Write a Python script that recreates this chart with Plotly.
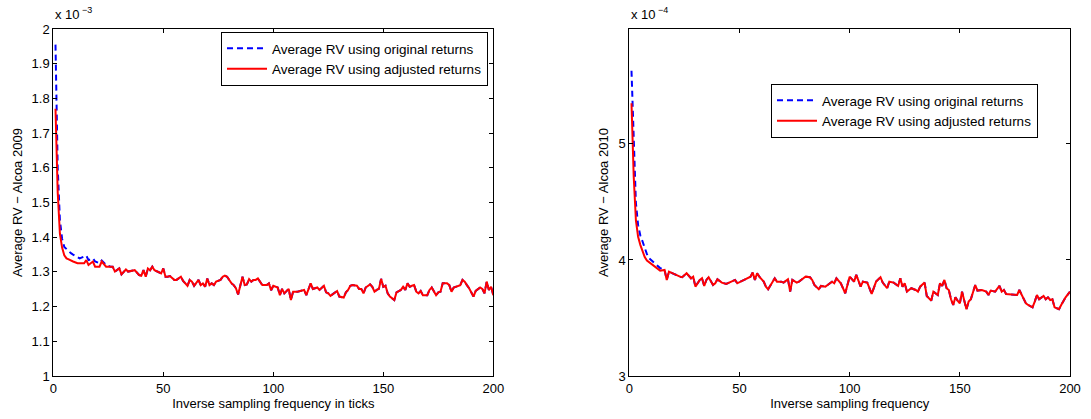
import plotly.graph_objects as go

W, H = 1091, 419

# ---------------- data ----------------
# Left panel: Alcoa 2009, values in units of 1e-3
left_x = [1, 2, 3, 4, 5, 6, 7, 8, 9, 11, 14, 15, 16, 18, 19, 21, 22, 24, 26, 27,
          28, 30, 31, 33, 34, 36, 37, 39, 40, 41, 42, 43, 44, 45, 46, 48, 49, 50, 51, 52,
          53, 55, 56, 58, 59, 61, 62, 63, 64, 66, 67, 68, 69, 70, 71, 72, 73, 74, 76, 77,
          78, 79, 80, 81, 82, 83, 84, 85, 86, 87, 88, 89, 90, 91, 92, 93, 94, 95, 96, 97,
          98, 99, 100, 101, 102, 103, 104, 105, 107, 108, 109, 111, 112, 114, 115, 116, 117, 118, 120, 121,
          122, 123, 124, 125, 126, 128, 129, 130, 132, 133, 134, 135, 136, 138, 139, 140, 141, 142, 144, 145,
          146, 147, 148, 149, 150, 151, 152, 153, 155, 156, 157, 158, 159, 160, 161, 162, 163, 164, 165, 166,
          167, 168, 170, 171, 172, 173, 174, 175, 176, 177, 179, 180, 181, 182, 183, 185, 186, 187, 188, 189,
          191, 192, 194, 195, 196, 197, 198, 199, 200]
left_adjusted = [1.770, 1.530, 1.410, 1.370, 1.348, 1.339, 1.336, 1.334, 1.330, 1.325, 1.325, 1.334, 1.320, 1.330, 1.315, 1.315, 1.330, 1.315, 1.315, 1.315,
                 1.301, 1.310, 1.293, 1.307, 1.301, 1.305, 1.305, 1.291, 1.289, 1.305, 1.286, 1.310, 1.305, 1.315, 1.305, 1.299, 1.296, 1.310, 1.286, 1.286,
                 1.288, 1.277, 1.277, 1.286, 1.274, 1.260, 1.277, 1.272, 1.260, 1.277, 1.262, 1.267, 1.257, 1.281, 1.262, 1.267, 1.262, 1.272, 1.277, 1.286,
                 1.289, 1.286, 1.277, 1.267, 1.262, 1.253, 1.235, 1.262, 1.286, 1.262, 1.264, 1.279, 1.272, 1.277, 1.277, 1.281, 1.272, 1.262, 1.262, 1.262,
                 1.267, 1.247, 1.260, 1.257, 1.255, 1.233, 1.251, 1.238, 1.251, 1.219, 1.243, 1.243, 1.245, 1.248, 1.233, 1.248, 1.267, 1.251, 1.255, 1.248,
                 1.255, 1.260, 1.241, 1.238, 1.231, 1.241, 1.245, 1.229, 1.226, 1.241, 1.248, 1.260, 1.262, 1.260, 1.251, 1.251, 1.238, 1.255, 1.264, 1.257,
                 1.243, 1.248, 1.251, 1.280, 1.257, 1.260, 1.238, 1.229, 1.219, 1.241, 1.245, 1.248, 1.257, 1.248, 1.267, 1.257, 1.260, 1.262, 1.243, 1.238,
                 1.245, 1.233, 1.233, 1.248, 1.255, 1.243, 1.233, 1.241, 1.243, 1.267, 1.267, 1.262, 1.243, 1.255, 1.257, 1.262, 1.277, 1.272, 1.262, 1.253,
                 1.229, 1.245, 1.255, 1.251, 1.238, 1.272, 1.248, 1.257, 1.233]
# original-returns curve differs only at the start; afterwards it coincides with the adjusted one
left_orig_head_x = [1, 2, 3, 4, 5, 6, 7, 8, 9, 10, 11, 12, 14, 15, 16, 18, 19, 21, 22, 24]
left_orig_head = [1.955, 1.600, 1.450, 1.395, 1.372, 1.365, 1.358, 1.354, 1.350, 1.346,
                  1.343, 1.339, 1.344, 1.347, 1.334, 1.339, 1.330, 1.325, 1.333, 1.320]

# Right panel: Alcoa 2010, values in units of 1e-4
right_x = [1, 2, 3, 4, 5, 6, 7, 8, 9, 11, 13, 14, 16, 17, 18, 20, 21, 23, 24, 25,
           26, 28, 29, 30, 32, 33, 34, 35, 36, 38, 39, 40, 42, 44, 46, 48, 49, 52, 54, 55,
           56, 57, 58, 59, 61, 62, 63, 64, 66, 67, 69, 70, 72, 73, 74, 76, 77, 79, 80, 82,
           83, 84, 86, 87, 89, 90, 92, 93, 94, 96, 97, 98, 99, 100, 102, 103, 105, 106, 108, 110,
           112, 114, 115, 117, 118, 120, 122, 123, 124, 125, 126, 128, 130, 131, 132, 134, 135, 137, 138, 140,
           141, 142, 143, 144, 145, 146, 147, 148, 149, 150, 151, 152, 153, 154, 155, 157, 158, 160, 162, 163,
           164, 166, 168, 169, 170, 171, 174, 176, 177, 178, 180, 181, 183, 184, 185, 186, 188, 189, 190, 191,
           192, 193, 195, 196, 198, 200]
right_adjusted = [5.350, 4.720, 4.340, 4.200, 4.130, 4.070, 4.025, 3.995, 3.980, 3.957, 3.920, 3.908, 3.914, 3.828, 3.899, 3.879, 3.871, 3.856, 3.851, 3.871,
                  3.885, 3.842, 3.856, 3.770, 3.828, 3.842, 3.776, 3.828, 3.851, 3.784, 3.799, 3.833, 3.805, 3.793, 3.813, 3.828, 3.799, 3.828, 3.842, 3.856,
                  3.891, 3.828, 3.885, 3.856, 3.813, 3.770, 3.747, 3.776, 3.842, 3.813, 3.813, 3.805, 3.833, 3.727, 3.828, 3.805, 3.813, 3.842, 3.856, 3.851,
                  3.828, 3.784, 3.747, 3.776, 3.770, 3.784, 3.813, 3.799, 3.842, 3.799, 3.756, 3.713, 3.785, 3.856, 3.813, 3.871, 3.770, 3.813, 3.805, 3.707,
                  3.813, 3.851, 3.805, 3.756, 3.813, 3.805, 3.776, 3.842, 3.770, 3.799, 3.727, 3.756, 3.741, 3.727, 3.770, 3.805, 3.690, 3.649, 3.727, 3.698,
                  3.799, 3.776, 3.828, 3.756, 3.741, 3.661, 3.612, 3.678, 3.649, 3.626, 3.727, 3.641, 3.575, 3.641, 3.661, 3.784, 3.736, 3.741, 3.727, 3.698,
                  3.736, 3.727, 3.776, 3.727, 3.741, 3.707, 3.698, 3.698, 3.741, 3.698, 3.626, 3.612, 3.592, 3.641, 3.698, 3.661, 3.690, 3.661, 3.678, 3.655,
                  3.661, 3.592, 3.575, 3.612, 3.678, 3.727]
right_orig_head_x = [1, 2, 3, 4, 5, 6, 7, 8, 9, 10, 11, 12, 13, 14]
right_orig_head = [5.630, 4.950, 4.490, 4.300, 4.210, 4.160, 4.100, 4.050, 4.014, 3.998,
                   3.986, 3.970, 3.950, 3.930]

assert len(left_x) == len(left_adjusted)
assert len(right_x) == len(right_adjusted)
assert len(left_orig_head_x) == len(left_orig_head)
assert len(right_orig_head_x) == len(right_orig_head)

left_orig_x = left_orig_head_x + [x for x in left_x if x > left_orig_head_x[-1]]
left_original = left_orig_head + [v for x, v in zip(left_x, left_adjusted) if x > left_orig_head_x[-1]]
right_orig_x = right_orig_head_x + [x for x in right_x if x > right_orig_head_x[-1]]
right_original = right_orig_head + [v for x, v in zip(right_x, right_adjusted) if x > right_orig_head_x[-1]]

x_ticks = [0, 50, 100, 150, 200]
left_y_ticks = [1, 1.1, 1.2, 1.3, 1.4, 1.5, 1.6, 1.7, 1.8, 1.9, 2]
left_y_labels = ["1", "1.1", "1.2", "1.3", "1.4", "1.5", "1.6", "1.7", "1.8", "1.9", "2"]
right_y_ticks = [3, 4, 5]
right_y_labels = ["3", "4", "5"]

name_orig = "Average RV using original returns"
name_adj = "Average RV using adjusted returns"
left_xtitle = "Inverse sampling frequency in ticks"
right_xtitle = "Inverse sampling frequency"
left_ytitle = "Average RV \u2212 Alcoa 2009"
right_ytitle = "Average RV \u2212 Alcoa 2010"

# ---------------- layout helpers (pixel -> paper) ----------------
def px(x):
    return x / W

def py(y):
    return 1 - y / H

FONT = "Liberation Sans, Arial, Helvetica, sans-serif"
FS = 13
LFS = 13.5

fig = go.Figure()

blue_line = dict(color="#0000ff", width=2, dash="6px,4px")
red_line = dict(color="#ff0000", width=2)

fig.add_trace(go.Scatter(x=left_orig_x, y=left_original, mode="lines", name=name_orig,
                         line=blue_line, xaxis="x", yaxis="y", legend="legend"))
fig.add_trace(go.Scatter(x=left_x, y=left_adjusted, mode="lines", name=name_adj,
                         line=red_line, xaxis="x", yaxis="y", legend="legend"))
fig.add_trace(go.Scatter(x=right_orig_x, y=right_original, mode="lines", name=name_orig,
                         line=blue_line, xaxis="x2", yaxis="y2", legend="legend2"))
fig.add_trace(go.Scatter(x=right_x, y=right_adjusted, mode="lines", name=name_adj,
                         line=red_line, xaxis="x2", yaxis="y2", legend="legend2"))

axis_common = dict(showline=True, linecolor="black", linewidth=1, mirror="ticks",
                   ticks="inside", ticklen=4, tickcolor="black", tickwidth=1,
                   showgrid=False, zeroline=False, automargin=False,
                   tickfont=dict(family=FONT, size=FS, color="black"))

def xt(text):
    return dict(text=text, standoff=4, font=dict(family=FONT, size=FS, color="black"))

def yt(text):
    return dict(text=text, standoff=6, font=dict(family=FONT, size=FS, color="black"))

ydom = [py(376), py(29)]
fig.update_layout(
    width=W, height=H,
    margin=dict(l=0, r=0, t=0, b=0),
    paper_bgcolor="white", plot_bgcolor="white",
    font=dict(family=FONT, size=FS, color="black"),
    xaxis=dict(domain=[px(53.3), px(493.3)], range=[0, 200], tickvals=x_ticks,
               anchor="y", title=xt(left_xtitle), **axis_common),
    yaxis=dict(domain=ydom, range=[1, 2], tickvals=left_y_ticks, ticktext=left_y_labels,
               anchor="x", title=yt(left_ytitle), **axis_common),
    xaxis2=dict(domain=[px(629.3), px(1070)], range=[0, 200], tickvals=x_ticks,
                anchor="y2", title=xt(right_xtitle), **axis_common),
    yaxis2=dict(domain=ydom, range=[3, 5.99], tickvals=right_y_ticks, ticktext=right_y_labels,
                anchor="x2", title=yt(right_ytitle), **axis_common),
    legend=dict(x=px(488), y=py(32), xanchor="right", yanchor="top",
                bordercolor="black", borderwidth=1, bgcolor="white",
                font=dict(family=FONT, size=LFS, color="black"),
                itemwidth=40, tracegroupgap=0),
    legend2=dict(x=px(1038), y=py(84), xanchor="right", yanchor="top",
                 bordercolor="black", borderwidth=1, bgcolor="white",
                 font=dict(family=FONT, size=LFS, color="black"),
                 itemwidth=40, tracegroupgap=0),
    showlegend=True,
)

ann = []
# exponent labels (MATLAB-style axis multiplier)
for x0, expo in ((53, "\u22123"), (629, "\u22124")):
    ann.append(dict(text="x 10", x=px(x0), y=py(24), xref="paper", yref="paper",
                    xanchor="left", yanchor="bottom", showarrow=False,
                    font=dict(family=FONT, size=FS, color="black")))
    ann.append(dict(text=expo, x=px(x0 + 27), y=py(17), xref="paper", yref="paper",
                    xanchor="left", yanchor="bottom", showarrow=False,
                    font=dict(family=FONT, size=9, color="black")))
fig.update_layout(annotations=ann)

fig.write_html("out.html", config={"displayModeBar": False},
               post_script="document.body.style.margin='0';document.body.style.padding='0';")
